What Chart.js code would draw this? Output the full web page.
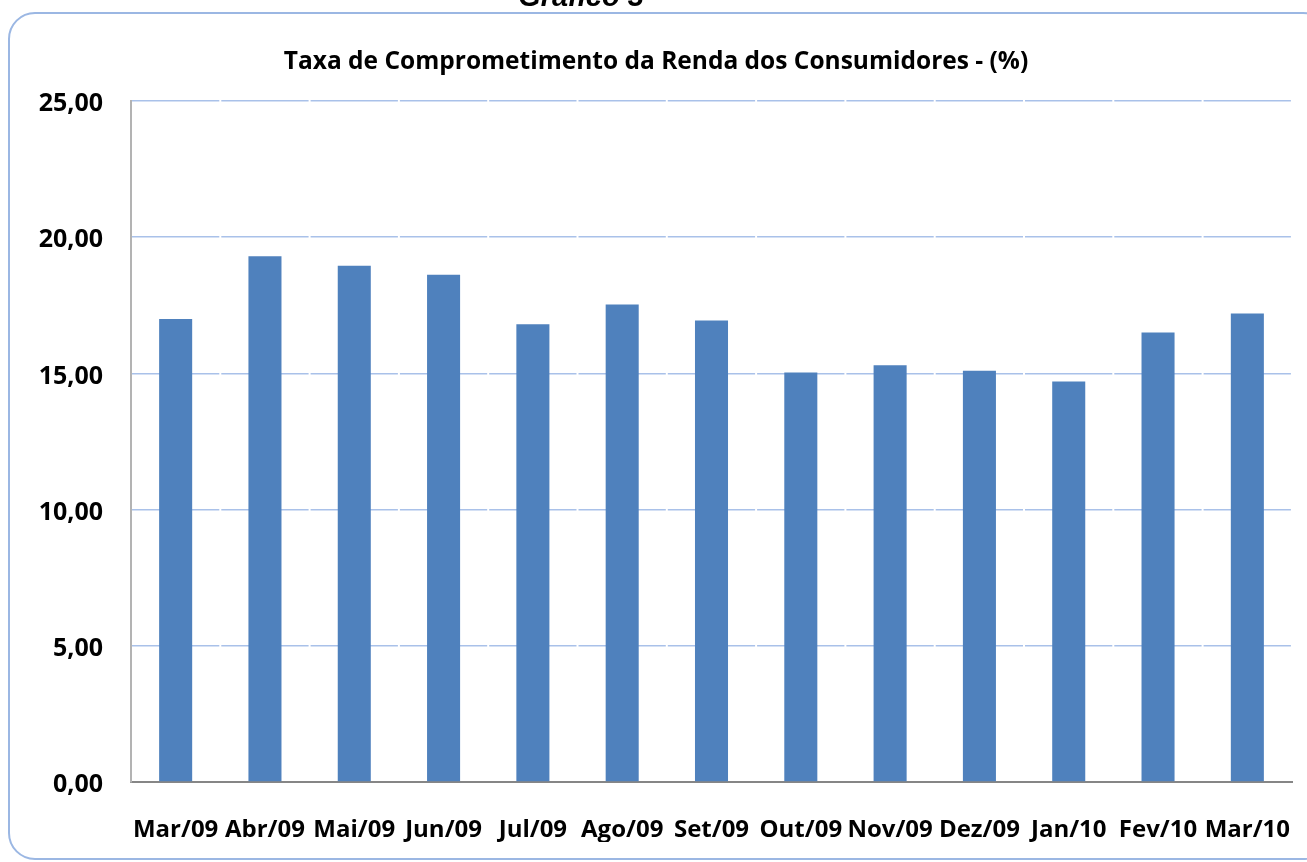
<!DOCTYPE html>
<html><head><meta charset="utf-8">
<script src="https://cdn.jsdelivr.net/npm/chart.js@4"></script>
<style>html,body{margin:0;padding:0;background:#fff}#wrap{width:1307px;height:862px}</style>
</head><body><div id="wrap"><canvas id="c" width="1307" height="862"></canvas></div>
<script>
const categories = ["Mar/09","Abr/09","Mai/09","Jun/09","Jul/09","Ago/09","Set/09","Out/09","Nov/09","Dez/09","Jan/10","Fev/10","Mar/10"];
const values = [17.0, 19.3, 18.95, 18.62, 16.8, 17.53, 16.94, 15.03, 15.3, 15.1, 14.7, 16.5, 17.2];
const yTickValues = [0, 5, 10, 15, 20, 25];
const chartTitle = "Taxa de Comprometimento da Renda dos Consumidores - (%)";
const topCaption = "Gráfico 3";

const FONT = "'Open Sans', Lato, sans-serif";

const framePlugin = {
  id: 'frame',
  beforeDraw(chart) {
    const ctx = chart.ctx;
    ctx.save();
    ctx.fillStyle = '#fff';
    ctx.fillRect(0, 0, chart.width, chart.height);
    ctx.strokeStyle = '#9bb7e3';
    ctx.lineWidth = 2;
    const x = 9, y = 13, w = 1320, h = 846, r = 26;
    ctx.beginPath();
    ctx.moveTo(x + r, y);
    ctx.lineTo(x + w - r, y);
    ctx.arcTo(x + w, y, x + w, y + r, r);
    ctx.lineTo(x + w, y + h - r);
    ctx.arcTo(x + w, y + h, x + w - r, y + h, r);
    ctx.lineTo(x + r, y + h);
    ctx.arcTo(x, y + h, x, y + h - r, r);
    ctx.lineTo(x, y + r);
    ctx.arcTo(x, y, x + r, y, r);
    ctx.closePath();
    ctx.stroke();
    ctx.fillStyle = '#000';
    ctx.font = "italic bold 29px 'Liberation Sans', Arial, sans-serif";
    ctx.textAlign = 'center';
    ctx.textBaseline = 'alphabetic';
    ctx.fillText(topCaption, 581, 6);
    ctx.restore();
  }
};

new Chart(document.getElementById('c'), {
  type: 'bar',
  data: {
    labels: categories,
    datasets: [{
      data: values,
      backgroundColor: '#4f81bd',
      borderWidth: 0,
      barPercentage: 0.74,
      categoryPercentage: 0.5
    }]
  },
  options: {
    responsive: false,
    animation: false,
    devicePixelRatio: 1,
    layout: { padding: { left: 20, right: 15, top: 47, bottom: 20 } },
    plugins: {
      legend: { display: false },
      tooltip: { enabled: false },
      title: {
        display: true,
        text: chartTitle,
        color: '#000',
        font: { family: FONT, size: 24.5, weight: 'bold' },
        padding: { top: 0, bottom: 24.6 }
      }
    },
    scales: {
      x: {
        afterFit(s) { s.height = 60; s.paddingLeft = 0; s.paddingRight = 0; },
        grid: { display: false },
        border: { display: true, color: '#868686', width: 2 },
        ticks: {
          color: '#000',
          font: { family: FONT, size: 24, weight: 'bold' },
          padding: 26,
          maxRotation: 0,
          autoSkip: false
        }
      },
      y: {
        min: 0,
        max: 25,
        afterFit(s) { s.width = 111; },
        afterBuildTicks(s) { s.ticks = yTickValues.map(v => ({ value: v })); },
        grid: { color: '#a9c1e9', lineWidth: 1.5, drawTicks: false },
        border: { display: true, color: '#b3b3b3', width: 2, dash: [87.3, 2] },
        ticks: {
          color: '#000',
          padding: 28,
          labelOffset: 3,
          font: { family: FONT, size: 25, weight: 'bold' },
          callback: v => v.toFixed(2).replace('.', ',')
        }
      }
    }
  },
  plugins: [framePlugin]
});
</script>
</body></html>
